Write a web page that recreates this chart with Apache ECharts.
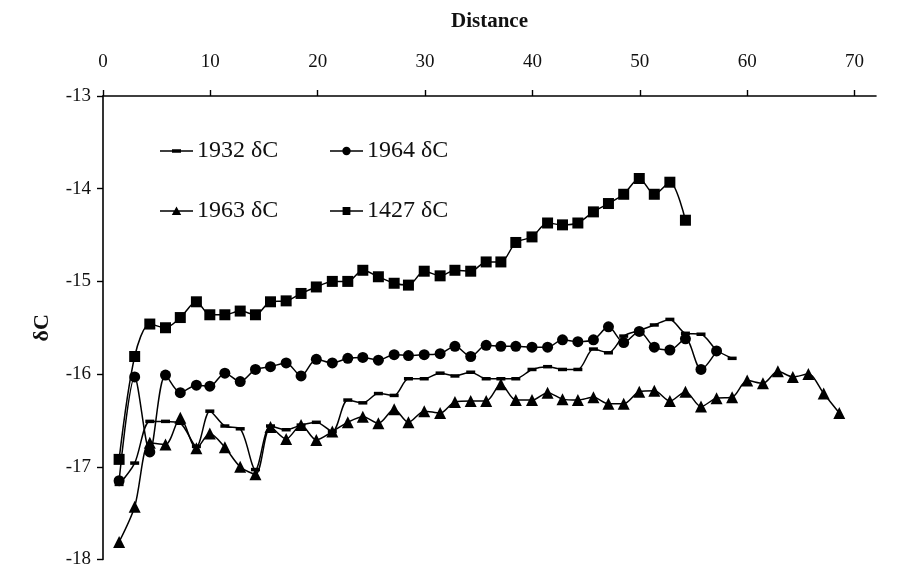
<!DOCTYPE html>
<html>
<head>
<meta charset="utf-8">
<script src="https://cdn.jsdelivr.net/npm/echarts@6/dist/echarts.min.js"></script>
<style>html,body{margin:0;padding:0;background:#fff}#c{width:899px;height:569px}</style>
</head>
<body>
<div id="c"></div>
<script>
const distance = [1.5, 2.95, 4.36, 5.82, 7.2, 8.7, 9.95, 11.35, 12.78, 14.2, 15.6, 17.06, 18.45, 19.87, 21.36, 22.8, 24.2, 25.65, 27.12, 28.45, 29.92, 31.4, 32.78, 34.25, 35.69, 37.06, 38.45, 39.96, 41.41, 42.8, 44.23, 45.68, 47.08, 48.5, 49.95, 51.35, 52.8, 54.25, 55.7, 57.15, 58.6, 60.0, 61.47, 62.86, 64.25, 65.7, 67.13, 68.58];
const s1932 = [-17.19, -16.96, -16.51, -16.51, -16.53, -16.78, -16.40, -16.56, -16.59, -17.03, -16.56, -16.60, -16.55, -16.52,
  -16.62, -16.28, -16.31, -16.21, -16.23, -16.05, -16.05, -15.99, -16.02, -15.98, -16.05, -16.05, -16.05,
  -15.95, -15.92, -15.95, -15.95, -15.73, -15.77, -15.59, -15.53, -15.47, -15.41, -15.56, -15.57, -15.74, -15.83];
const s1964 = [-17.15, -16.03, -16.84, -16.01, -16.20, -16.12, -16.13, -15.99, -16.08, -15.95, -15.92, -15.88, -16.02, -15.84,
  -15.88, -15.83, -15.82, -15.85, -15.79, -15.80, -15.79, -15.78, -15.70, -15.81, -15.69, -15.70, -15.70,
  -15.71, -15.71, -15.63, -15.65, -15.63, -15.49, -15.66, -15.54, -15.71, -15.74, -15.62, -15.95, -15.75];
const s1963 = [-17.81, -17.43, -16.74, -16.76, -16.47, -16.80, -16.64, -16.79, -17.00, -17.08, -16.57, -16.70, -16.55, -16.71,
  -16.62, -16.52, -16.46, -16.53, -16.38, -16.52, -16.40, -16.42, -16.30, -16.29, -16.29, -16.11, -16.28,
  -16.28, -16.20, -16.27, -16.28, -16.25, -16.32, -16.32, -16.19, -16.18, -16.29, -16.19, -16.35,
  -16.26, -16.25, -16.07, -16.10, -15.97, -16.03, -16.00, -16.21, -16.42];
const s1427 = [-16.92, -15.81, -15.46, -15.50, -15.39, -15.22, -15.36, -15.36, -15.32, -15.36, -15.22, -15.21, -15.13, -15.06,
  -15.00, -15.00, -14.88, -14.95, -15.02, -15.04, -14.89, -14.94, -14.88, -14.89, -14.79, -14.79, -14.58,
  -14.52, -14.37, -14.39, -14.37, -14.25, -14.16, -14.06, -13.89, -14.06, -13.93, -14.34];
const xTicks = [0, 10, 20, 30, 40, 50, 60, 70];
const names = ['1932 δC', '1964 δC', '1963 δC', '1427 δC'];

const FONT = "'Liberation Serif', 'DejaVu Serif', serif";
const pair = arr => arr.map((v, i) => [distance[i], v]);

const base = 'M0,0h0.05v0.05h-0.05Z M32.95,9.95h0.05v0.05h-0.05Z M0,4.35H33V5.65H0Z ';
const icons = {
  '1932 δC': 'path://' + base + 'M12,3.2H21V6.8H12Z',
  '1964 δC': 'path://' + base + 'M12.3,5A4.2,4.2 0 1 1 20.7,5A4.2,4.2 0 1 1 12.3,5Z',
  '1963 δC': 'path://' + base + 'M16.5,0.6L21.2,9H11.8Z',
  '1427 δC': 'path://' + base + 'M12.6,1.1H20.4V8.9H12.6Z'
};
const legendPos = [[160, 139], [330, 139], [160, 199], [330, 199]];

const chart = echarts.init(document.getElementById('c'));
chart.setOption({
  animation: false,
  backgroundColor: '#fff',
  grid: { left: 103, right: 23, top: 96, bottom: 9, containLabel: false },
  legend: names.map((n, i) => ({
    left: legendPos[i][0], top: legendPos[i][1], padding: 0,
    itemWidth: 33, itemHeight: 10, selectedMode: false,
    data: [{ name: n, icon: icons[n], itemStyle: { color: '#000' } }],
    textStyle: { fontFamily: FONT, fontSize: 24, color: '#111', padding: [0, 0, 0, -1] }
  })),
  xAxis: {
    type: 'value', position: 'top', min: 0, max: 72,
    name: 'Distance', nameLocation: 'middle', nameGap: 64,
    nameTextStyle: { fontFamily: FONT, fontSize: 21, fontWeight: 'bold', color: '#111' },
    axisLine: { show: true, onZero: false, lineStyle: { color: '#000', width: 1.6 } },
    axisTick: { show: true, inside: false, length: 6, lineStyle: { color: '#000', width: 1.4 }, customValues: xTicks },
    axisLabel: { fontFamily: FONT, fontSize: 19, color: '#111', margin: 24, customValues: xTicks },
    splitLine: { show: false }
  },
  yAxis: {
    type: 'value', min: -18, max: -13, interval: 1,
    name: 'δC', nameLocation: 'middle', nameGap: 50,
    nameTextStyle: { fontFamily: FONT, fontSize: 22, fontWeight: 'bold', color: '#111' },
    axisLine: { show: true, onZero: false, lineStyle: { color: '#000', width: 1.6 } },
    axisTick: { show: true, inside: false, length: 6, lineStyle: { color: '#000', width: 1.4 } },
    axisLabel: { fontFamily: FONT, fontSize: 19, color: '#111', margin: 12 },
    splitLine: { show: false }
  },
  series: [
    { name: '1932 δC', type: 'line', data: pair(s1932), smooth: 0.3, symbol: 'rect', symbolSize: [9, 3.5],
      showAllSymbol: true, itemStyle: { color: '#000' }, lineStyle: { color: '#000', width: 1.5 } },
    { name: '1964 δC', type: 'line', data: pair(s1964), smooth: 0.3, symbol: 'circle', symbolSize: 11,
      showAllSymbol: true, itemStyle: { color: '#000' }, lineStyle: { color: '#000', width: 1.5 } },
    { name: '1963 δC', type: 'line', data: pair(s1963), smooth: 0.3, symbol: 'triangle', symbolSize: 12,
      showAllSymbol: true, itemStyle: { color: '#000' }, lineStyle: { color: '#000', width: 1.5 } },
    { name: '1427 δC', type: 'line', data: pair(s1427), smooth: 0.3, symbol: 'rect', symbolSize: 11,
      showAllSymbol: true, itemStyle: { color: '#000' }, lineStyle: { color: '#000', width: 1.5 } }
  ]
});
</script>
</body>
</html>
